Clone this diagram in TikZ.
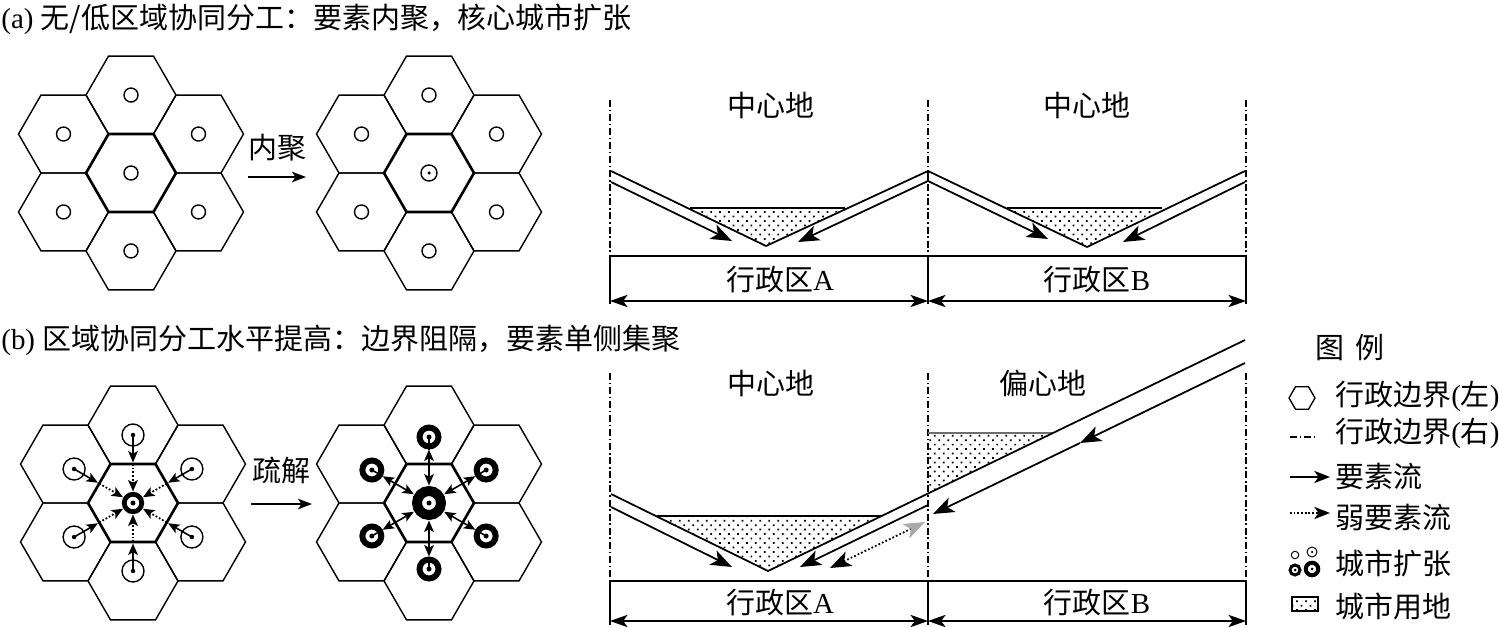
\documentclass[tikz,border=0pt]{standalone}
\usepackage{fontspec}
\setmainfont{Liberation Serif}
\newfontfamily\cjk{Noto Sans CJK SC}
\usetikzlibrary{arrows.meta,calc,shapes.geometric,patterns.meta}
\definecolor{inkgray}{RGB}{170,170,170}
\definecolor{edgegray}{RGB}{110,110,110}
\tikzset{
  lbl/.style={inner sep=0pt, font=\fontsize{16.5}{20}\selectfont},
  hexcell/.style={regular polygon, regular polygon sides=6, draw, inner sep=0pt,
                  minimum size=1.8cm, line width=0.8pt},
  hexcore/.style={line width=1.5pt},
  town/.style={circle, draw, inner sep=0pt, minimum size=0.28cm, line width=0.8pt},
  towndot/.style={circle, fill, inner sep=0pt, minimum size=0.09cm},
  cityring/.style={circle, draw, inner sep=0pt, line width=#1},
  cityring/.default=2pt,
  stepArr/.style={-{Stealth[length=8pt,width=6pt,inset=2pt]}, line width=0.8pt},
  flowsm/.style={-{Stealth[length=6.5pt,width=5.5pt,inset=1.5pt]}, line width=0.9pt},
  weaksm/.style={-{Stealth[length=6.5pt,width=5.5pt,inset=1.5pt]}, line width=1pt, dash pattern=on 1pt off 1.1pt},
  dflow/.style={{Stealth[length=6.5pt,width=5.5pt,inset=1.5pt]}-{Stealth[length=6.5pt,width=5.5pt,inset=1.5pt]}, line width=0.9pt},
  prof/.style={line width=1pt, line join=miter},
  bigflow/.style={-{Stealth[length=12pt,width=9pt,inset=3pt]}, line width=1pt},
  weakbig/.style={{Stealth[length=12pt,width=9pt,inset=3pt]}-{Stealth[length=12pt,width=9pt,inset=3pt,color=inkgray]},
                  line width=1pt, dash pattern=on 1pt off 1.2pt},
  admline/.style={line width=0.75pt, dash pattern=on 4pt off 1.6pt on 0.8pt off 1.6pt},
  bnd/.style={line width=0.9pt},
  span/.style={{Stealth[length=10pt,width=7pt,inset=2.5pt]}-{Stealth[length=10pt,width=7pt,inset=2.5pt]}, line width=0.9pt},
  landfill/.style={pattern={Dots[distance=3.6pt,radius=0.7pt,angle=45]}},
  legArr/.style={-{Stealth[length=9pt,width=7pt,inset=2.5pt]}, line width=0.9pt},
  legWeak/.style={-{Stealth[length=9pt,width=7pt,inset=2.5pt]}, line width=0.9pt, dash pattern=on 1pt off 1.1pt},
}

\begin{document}
\begin{tikzpicture}[x=0.02cm, y=-0.02cm]
\useasboundingbox (0,0) rectangle (1500,628);

% titles
\node[lbl, anchor=west] (titA) at (1,19) {(a) {\cjk 无/低区域协同分工：要素内聚，核心城市扩张}};
\node[lbl, anchor=west] (titB) at (1,340) {(b) {\cjk 区域协同分工水平提高：边界阻隔，要素单侧集聚}};

% hexagon clusters
\foreach \nm/\cx/\cy in {ta/131/173,tb/429/173,ba/133/503,bb/429/503}{
  \foreach \k in {1,...,6}
    \node[hexcell] (\nm\k) at ({\cx+77.94*cos(60*\k-30)},{\cy+77.94*sin(60*\k-30)}) {};
  \node[hexcell, hexcore] (\nm0) at (\cx,\cy) {};
}

% (a) towns
\foreach \k in {0,...,6} \node[town] (tat\k) at (ta\k) {};
\foreach \k in {1,...,6} \node[town] (tbt\k) at (tb\k) {};
\node[town, minimum size=0.32cm] (tbt0) at (tb0) {};
\node[towndot, minimum size=0.07cm] (tbd0) at (tb0) {};

\coordinate (nj0) at (248,177); \coordinate (nj1) at (306,177);
\draw[stepArr] (nj0) -- (nj1);
\node[lbl] (njT) at (277,148) {\cjk 内聚};

% (b) left cluster: flows stopped at the border
\foreach \k in {1,...,6}{
  \pgfmathsetmacro\ang{60*\k-30}
  \coordinate (bap\k) at ($(ba0)+(\ang:68)$);
  \coordinate (bae\k) at ($(ba0)+(\ang:40.5)$);
  \coordinate (bas\k) at ($(ba0)+(\ang:39)$);
  \coordinate (bai\k) at ($(ba0)+(\ang:11.5)$);
  \draw[flowsm] (bap\k) -- (bae\k);
  \draw[weaksm] (bas\k) -- (bai\k);
  \node[town, minimum size=0.44cm] (bat\k) at (bap\k) {};
  \node[towndot] (bad\k) at (bap\k) {};
}
\node[cityring=2.7pt, minimum size=0.35cm] (bat0) at (ba0) {};
\node[towndot, minimum size=0.1cm] (bad0) at (ba0) {};

% (b) right cluster
\foreach \k in {1,...,6}{
  \pgfmathsetmacro\ang{60*\k-30}
  \coordinate (bbp\k) at ($(bb0)+(\ang:66)$);
  \coordinate (bbo\k) at ($(bb0)+(\ang:53.5)$);
  \coordinate (bbi\k) at ($(bb0)+(\ang:17.5)$);
  \draw[line width=0.9pt] (bbp\k) -- (bbo\k);
  \draw[dflow] (bbo\k) -- (bbi\k);
  \node[cityring=3.4pt, minimum size=0.38cm] (bbt\k) at (bbp\k) {};
  \node[towndot, minimum size=0.1cm] (bbd\k) at (bbp\k) {};
}
\node[cityring=5.67pt, minimum size=0.48cm] (bbt0) at (bb0) {};
\node[towndot, minimum size=0.1cm] (bbd0) at (bb0) {};

\coordinate (sj0) at (251,504); \coordinate (sj1) at (312,504);
\draw[stepArr] (sj0) -- (sj1);
\node[lbl] (sjT) at (281,470) {\cjk 疏解};

% profile (a)
\foreach \bx/\i in {610/0,928/1,1246/2}{
  \coordinate (pau\i) at (\bx,100);
  \coordinate (pah\i) at (\bx,256);
  \coordinate (pas\i) at (\bx,301);
  \coordinate (pab\i) at (\bx,304);
  \draw[admline] (pau\i) -- (pah\i);
  \draw[bnd] (pah\i) -- (pab\i);
}
\draw[bnd] (pah0) -- (pah2);
\draw[span] (pas0) -- (pas1);
\draw[span] (pas1) -- (pas2);
\node[lbl] (paC1) at (771,105) {\cjk 中心地};
\node[lbl] (paC2) at (1087,105) {\cjk 中心地};
\node[lbl] (paR1) at (780,280) {{\cjk 行政区}A};
\node[lbl] (paR2) at (1097,280) {{\cjk 行政区}B};

\fill[landfill] (690,208) -- (845,208) -- (766,246) -- cycle;
\draw[bnd] (690,208) -- (845,208);
\fill[landfill] (1007,208) -- (1162,208) -- (1087,247) -- cycle;
\draw[bnd] (1007,208) -- (1162,208);
\coordinate (paL) at (611,171); \coordinate (paV1) at (766,246);
\coordinate (paM) at (928,171); \coordinate (paV2) at (1087,247);
\coordinate (paR) at (1245,171);
\draw[prof] (paL) -- (paV1) -- (paM) -- (paV2) -- (paR);
\draw[prof] (paM) -- (928,181);
\draw[bigflow] (611,182) -- (732,241);
\draw[bigflow] (928,181) -- (798,242);
\draw[bigflow] (928,181) -- (1048,239);
\draw[bigflow] (1245,182) -- (1123,242);

% profile (b)
\foreach \bx/\i in {610/0,928/1,1246/2}{
  \coordinate (pbu\i) at (\bx,373);
  \coordinate (pbh\i) at (\bx,581);
  \coordinate (pbs\i) at (\bx,621);
  \coordinate (pbb\i) at (\bx,625);
  \draw[admline] (pbu\i) -- (pbh\i);
  \draw[bnd] (pbh\i) -- (pbb\i);
}
\draw[bnd] (pbh0) -- (pbh2);
\draw[span] (pbs0) -- (pbs1);
\draw[span] (pbs1) -- (pbs2);
\node[lbl] (pbC1) at (771,383) {\cjk 中心地};
\node[lbl] (pbC2) at (1043,383) {\cjk 偏心地};
\node[lbl] (pbR1) at (780,603) {{\cjk 行政区}A};
\node[lbl] (pbR2) at (1097,603) {{\cjk 行政区}B};

\fill[landfill] (657,516) -- (882,516) -- (768,571) -- cycle;
\draw[bnd] (657,516) -- (882,516);
\fill[landfill] (928,433) -- (1053,433) -- (928,494) -- cycle;
\draw[bnd, edgegray] (928,433) -- (1053,433);
\coordinate (pbL) at (611,494); \coordinate (pbV) at (768,571);
\coordinate (pbR) at (1245,340);
\draw[prof] (pbL) -- (pbV) -- (pbR);
\draw[bigflow] (611,507) -- (732,567);
\draw[bigflow] (928,505) -- (800,567);
\draw[bigflow] (1245,363) -- (1080,443);
\draw[bigflow] (1080,443) -- (933,514);
\draw[weakbig] (830,568) -- (925,522);

% legend
\node[lbl] (lgT) at (1350,348) {\cjk 图\hspace{0.4em}例};
\node[hexcell, minimum size=0.52cm, line width=0.75pt] (lgHex) at (1302,398) {};
\node[lbl, anchor=west] (lgT1) at (1335,396) {{\cjk 行政边界}({\cjk 左})};
\coordinate (lgD0) at (1290,437); \coordinate (lgD1) at (1315,437);
\draw[admline] (lgD0) -- (lgD1);
\node[lbl, anchor=west] (lgT2) at (1335,433) {{\cjk 行政边界}({\cjk 右})};
\coordinate (lgA0) at (1290,477); \coordinate (lgA1) at (1330,477);
\draw[legArr] (lgA0) -- (lgA1);
\node[lbl, anchor=west] (lgT3) at (1335,476) {\cjk 要素流};
\coordinate (lgW0) at (1290,513); \coordinate (lgW1) at (1330,513);
\draw[legWeak] (lgW0) -- (lgW1);
\node[lbl, anchor=west] (lgT4) at (1335,517) {\cjk 弱要素流};
\node[town, minimum size=0.15cm, line width=0.55pt] (lgC1) at (1295,555) {};
\node[town, minimum size=0.2cm, line width=0.55pt] (lgC2) at (1312,552) {};
\node[towndot, minimum size=0.05cm] (lgC2d) at (1312,552) {};
\node[cityring=1.7pt, minimum size=0.2cm] (lgC3) at (1295,570) {};
\node[towndot, minimum size=0.06cm] (lgC3d) at (1295,570) {};
\node[cityring=2.3pt, minimum size=0.25cm] (lgC4) at (1312,569) {};
\node[towndot, minimum size=0.06cm] (lgC4d) at (1312,569) {};
\node[lbl, anchor=west] (lgT5) at (1335,563) {\cjk 城市扩张};
\fill[landfill] (1292,597) rectangle (1318,611);
\draw[line width=0.75pt] (1292,597) rectangle (1318,611);
\node[lbl, anchor=west] (lgT6) at (1335,606) {\cjk 城市用地};
\end{tikzpicture}
\end{document}
